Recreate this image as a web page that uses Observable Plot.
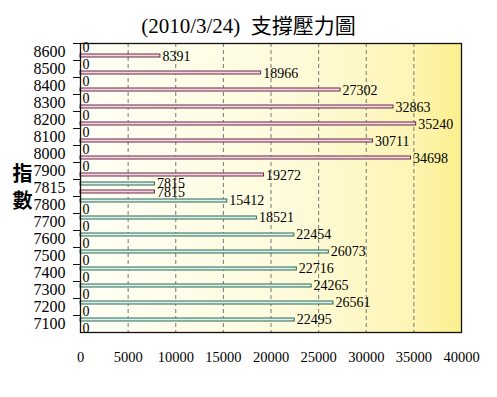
<!DOCTYPE html>
<html>
<head>
<meta charset="utf-8">
<script src="https://cdn.jsdelivr.net/npm/d3@7"></script>
<script src="https://cdn.jsdelivr.net/npm/@observablehq/plot@0.6"></script>
<style>
  body { margin: 0; background: #fff; width: 497px; height: 397px; overflow: hidden; }
  #title { height: 40px; line-height: 52px; text-align: center; font-family: "Liberation Serif", "Noto Sans CJK TC", serif; font-size: 21px; color: #000; white-space: pre; }
</style>
</head>
<body>
<div id="title">(2010/3/24)  支撐壓力圖</div>
<div id="chart"></div>
<script>
const levels = ["8600","8500","8400","8300","8200","8100","8000","7900","7815","7800","7700","7600","7500","7400","7300","7200","7100"];
const callValues = [8391,18966,27302,32863,35240,30711,34698,19272,7815,0,0,0,0,0,0,0,0];
const putValues  = [0,0,0,0,0,0,0,0,7815,15412,18521,22454,26073,22716,24265,26561,22495];
const xTicks = [0,5000,10000,15000,20000,25000,30000,35000,40000];
const yLabel = "指\n數";

const calls = levels.map((l, i) => ({level: l, value: callValues[i]}));
const puts = levels.map((l, i) => ({level: l, value: putValues[i]}));

const font = "Liberation Serif";
const plot = Plot.plot({
  width: 497,
  height: 357,
  marginTop: 3,
  marginBottom: 65,
  marginLeft: 80,
  marginRight: 36,
  style: {fontFamily: font, background: "transparent", color: "#000"},
  x: {domain: [0, 40000]},
  y: {type: "band", domain: levels, padding: 0},
  marks: [
    Plot.frame({fill: "url(#bggrad)", stroke: "none"}),
    Plot.gridX(xTicks, {stroke: "#777", strokeOpacity: 1, strokeDasharray: "4,3"}),
    Plot.barX(puts, {x: "value", y: "level", insetTop: 3, insetBottom: 11, fill: "#d9f0ec", stroke: "#2d6a55", strokeWidth: 1}),
    Plot.barX(calls, {x: "value", y: "level", insetTop: 11, insetBottom: 3, fill: "#f2d6e2", stroke: "#6a2848", strokeWidth: 1}),
    Plot.text(puts, {x: "value", y: "level", text: d => String(d.value), dy: -4, dx: 2, textAnchor: "start", fontSize: 14, fill: "#000"}),
    Plot.text(calls, {x: "value", y: "level", text: d => String(d.value), dy: 4.5, dx: 2, textAnchor: "start", fontSize: 14, fill: "#000"}),
    Plot.frame({stroke: "#111", strokeWidth: 1.3}),
    Plot.axisX({ticks: xTicks, tickSize: 0, tickPadding: 19, tickFormat: d => String(d), fontSize: 14.5, label: null}),
    Plot.axisY({tickSize: 0, tickPadding: 15, fontSize: 16, label: null}),
    Plot.axisY({tickSize: 7, tickFormat: () => "", dy: -8.5, label: null, stroke: "#111"}),
    Plot.text([yLabel], {text: d => d, frameAnchor: "left", dx: -68, dy: -2, fontSize: 20, fontWeight: "bold", lineHeight: 1.35, fontFamily: "Noto Sans CJK TC", fill: "#000"})
  ]
});

const svg = d3.select(plot);
const defs = svg.insert("defs", ":first-child");
const g = defs.append("linearGradient").attr("id", "bggrad").attr("x1", "0").attr("x2", "1").attr("y1", "0").attr("y2", "0");
g.append("stop").attr("offset", "0%").attr("stop-color", "#fffff6");
g.append("stop").attr("offset", "55%").attr("stop-color", "#fefbdc");
g.append("stop").attr("offset", "86%").attr("stop-color", "#fdf5b6");
g.append("stop").attr("offset", "100%").attr("stop-color", "#fcef8c");
document.getElementById("chart").appendChild(plot);
</script>
</body>
</html>
